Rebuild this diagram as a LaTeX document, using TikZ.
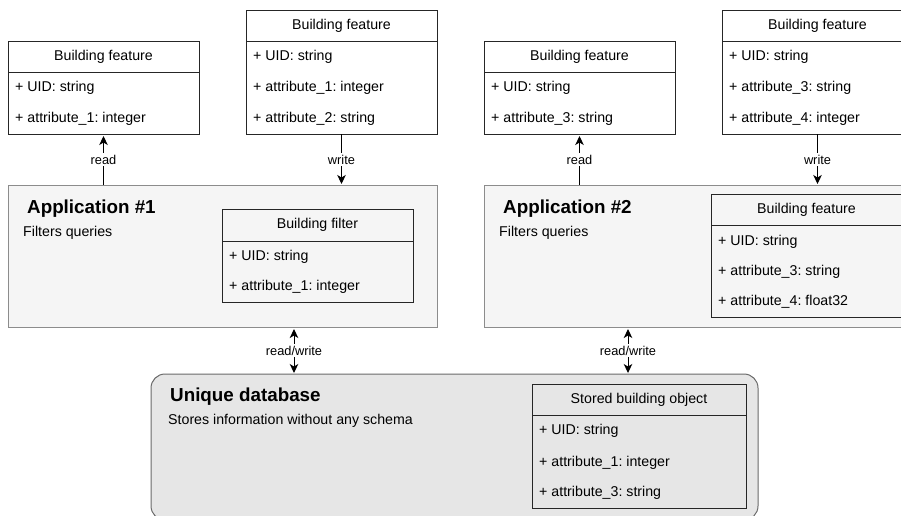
\documentclass[tikz,border=0pt]{standalone}
\usepackage{fontspec}
\setmainfont{Liberation Sans}
\usetikzlibrary{arrows.meta, positioning}
\definecolor{appfill}{HTML}{F5F5F5}
\definecolor{appline}{HTML}{8C8C8C}
\definecolor{dbfill}{HTML}{E6E6E6}
\definecolor{dbline}{HTML}{6A6A6A}
\frenchspacing
\tikzstyle{classhead} = [rectangle, draw=black!85, line width=1pt, outer sep=0pt, minimum height=31pt, anchor=north west, font=\fontsize{14.2}{16}\selectfont]
\tikzstyle{classbody} = [rectangle, draw=black!85, line width=1pt, outer sep=0pt, anchor=north]
\tikzstyle{field} = [anchor=west, inner sep=0pt, font=\fontsize{14.2}{16}\selectfont]
\tikzstyle{app} = [rectangle, draw=appline, fill=appfill, line width=1pt, outer sep=0pt, anchor=north west, minimum width=429pt, minimum height=142pt]
\tikzstyle{store} = [rectangle, rounded corners=14pt, draw=dbline, fill=dbfill, line width=1pt, outer sep=0pt, anchor=north west]
\tikzstyle{title} = [anchor=west, inner sep=0pt, font=\bfseries\fontsize{18.8}{21}\selectfont]
\tikzstyle{note} = [anchor=west, inner sep=0pt, font=\fontsize{14.2}{16}\selectfont]
\tikzstyle{flow} = [line width=1pt, >={Stealth[length=9pt, width=8.5pt, inset=2.5pt]}]
\tikzstyle{flowlabel} = [fill=white, inner sep=1.5pt, font=\fontsize{12.8}{14}\selectfont]

\begin{document}
\begin{tikzpicture}[x=1pt, y=-1pt]
  \useasboundingbox (0,0) rectangle (901,515);

  % containers
  \node (app1) [app] at (8,185) {};
  \node (app2) [app] at (484,185) {};
  \node (db) [store, minimum width=607pt, minimum height=146pt] at (151,374) {};

  \node (app1title) [title] at (27,209) {Application \#1};
  \node (app1note) [note] at (23,233) {Filters queries};
  \node (app2title) [title] at (503,209) {Application \#2};
  \node (app2note) [note] at (499,233) {Filters queries};
  \node (dbtitle) [title] at (170,397) {Unique database};
  \node (dbnote) [note] at (168,421) {Stores information without any schema};

  % features read and written by application 1
  \node (feat1) [classhead, minimum width=191pt] at (8,41) {Building feature};
  \node (feat1body) [classbody, minimum width=191pt, minimum height=62pt, below=0pt of feat1] {};
  \node (feat1uid) [field] at (15,88) {+ UID: string};
  \node (feat1att1) [field] at (15,119) {+ attribute\_1: integer};

  \node (feat2) [classhead, minimum width=191pt] at (246,10) {Building feature};
  \node (feat2body) [classbody, minimum width=191pt, minimum height=93pt, below=0pt of feat2] {};
  \node (feat2uid) [field] at (253,57) {+ UID: string};
  \node (feat2att1) [field] at (253,88) {+ attribute\_1: integer};
  \node (feat2att2) [field] at (253,119) {+ attribute\_2: string};

  % features read and written by application 2
  \node (feat3) [classhead, minimum width=191pt] at (484,41) {Building feature};
  \node (feat3body) [classbody, minimum width=191pt, minimum height=62pt, below=0pt of feat3] {};
  \node (feat3uid) [field] at (491,88) {+ UID: string};
  \node (feat3att3) [field] at (491,119) {+ attribute\_3: string};

  \node (feat4) [classhead, minimum width=191pt] at (722,10) {Building feature};
  \node (feat4body) [classbody, minimum width=191pt, minimum height=93pt, below=0pt of feat4] {};
  \node (feat4uid) [field] at (729,57) {+ UID: string};
  \node (feat4att3) [field] at (729,88) {+ attribute\_3: string};
  \node (feat4att4) [field] at (729,119) {+ attribute\_4: integer};

  % inner classes
  \node (filter) [classhead, minimum width=191pt, minimum height=32pt] at (222,209) {Building filter};
  \node (filterbody) [classbody, minimum width=191pt, minimum height=61pt, below=0pt of filter] {};
  \node (filteruid) [field] at (229,257) {+ UID: string};
  \node (filteratt1) [field] at (229,287) {+ attribute\_1: integer};

  \node (appfeat) [classhead, minimum width=191pt] at (711,194) {Building feature};
  \node (appfeatbody) [classbody, minimum width=191pt, minimum height=92pt, below=0pt of appfeat] {};
  \node (appfeatuid) [field] at (718,242) {+ UID: string};
  \node (appfeatatt3) [field] at (718,272) {+ attribute\_3: string};
  \node (appfeatatt4) [field] at (718,302) {+ attribute\_4: float32};

  \node (stored) [classhead, minimum width=214pt] at (532,384) {Stored building object};
  \node (storedbody) [classbody, minimum width=214pt, minimum height=93pt, below=0pt of stored] {};
  \node (storeduid) [field] at (539,431) {+ UID: string};
  \node (storedatt1) [field] at (539,463) {+ attribute\_1: integer};
  \node (storedatt3) [field] at (539,493) {+ attribute\_3: string};

  % links
  \coordinate (rw1) at (294,0);
  \coordinate (rw2) at (628,0);
  \draw [flow, ->, shorten >=2pt] (app1.north -| feat1body.south) -- node[flowlabel] (read1) {read} (feat1body.south);
  \draw [flow, ->, shorten >=1pt] (feat2body.south) -- node[flowlabel] (write1) {write} (app1.north -| feat2body.south);
  \draw [flow, ->, shorten >=2pt] (app2.north -| feat3body.south) -- node[flowlabel] (read2) {read} (feat3body.south);
  \draw [flow, ->, shorten >=1pt] (feat4body.south) -- node[flowlabel] (write2) {write} (app2.north -| feat4body.south);
  \draw [flow, <->, shorten <=2pt, shorten >=1pt] (app1.south -| rw1) -- node[flowlabel] (rwlab1) {read/write} (db.north -| rw1);
  \draw [flow, <->, shorten <=2pt, shorten >=1pt] (app2.south -| rw2) -- node[flowlabel] (rwlab2) {read/write} (db.north -| rw2);
\end{tikzpicture}
\end{document}
